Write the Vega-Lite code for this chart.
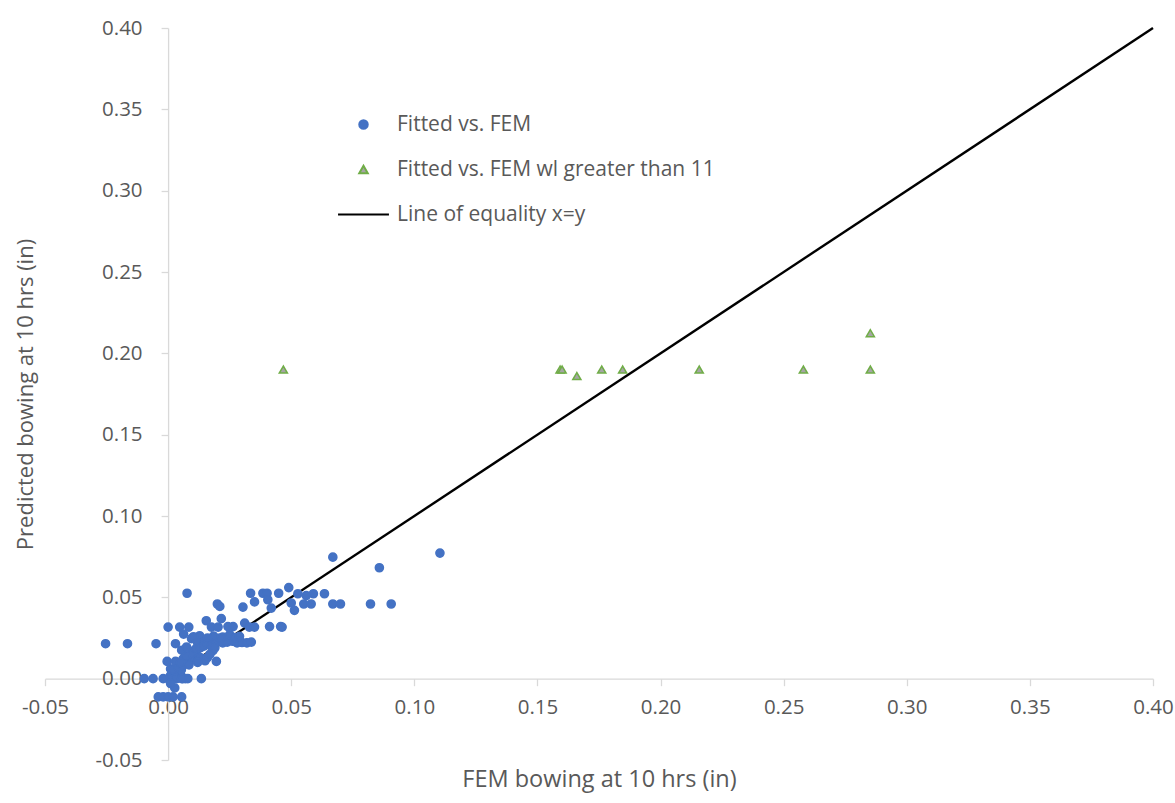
{
  "$schema": "https://vega.github.io/schema/vega-lite/v6.json",
  "width": 1108,
  "height": 732,
  "autosize": "none",
  "padding": {"left": 45, "top": 28, "right": 22, "bottom": 43},
  "background": "white",
  "config": {
    "view": {"stroke": null},
    "font": "Open Sans",
    "axis": {"grid": false, "domainColor": "#d9d9d9", "tickColor": "#d9d9d9", "domainWidth": 1.3, "tickWidth": 1.3, "tickSize": 7, "labelColor": "#595959", "labelFont": "Open Sans", "labelFontSize": 20.5, "titleColor": "#595959", "titleFont": "Open Sans", "titleFontSize": 22, "titleFontWeight": "normal"},
    "legend": {"title": null, "orient": "none", "legendX": 308, "legendY": 86, "padding": 0, "symbolSize": 72, "symbolStrokeWidth": 2, "labelOffset": 23, "rowPadding": 23, "labelFont": "Open Sans", "labelFontSize": 21, "labelColor": "#595959", "labelLimit": 600}
  },
  "datasets": {
    "pts": [
      {"fem": 0.1104, "pred": 0.0772, "series": "Fitted vs. FEM"},
      {"fem": 0.0669, "pred": 0.0747, "series": "Fitted vs. FEM"},
      {"fem": 0.0858, "pred": 0.0682, "series": "Fitted vs. FEM"},
      {"fem": 0.0490, "pred": 0.0560, "series": "Fitted vs. FEM"},
      {"fem": 0.0077, "pred": 0.0525, "series": "Fitted vs. FEM"},
      {"fem": 0.0335, "pred": 0.0525, "series": "Fitted vs. FEM"},
      {"fem": 0.0385, "pred": 0.0525, "series": "Fitted vs. FEM"},
      {"fem": 0.0402, "pred": 0.0525, "series": "Fitted vs. FEM"},
      {"fem": 0.0449, "pred": 0.0525, "series": "Fitted vs. FEM"},
      {"fem": 0.0527, "pred": 0.0522, "series": "Fitted vs. FEM"},
      {"fem": 0.0561, "pred": 0.0511, "series": "Fitted vs. FEM"},
      {"fem": 0.0590, "pred": 0.0522, "series": "Fitted vs. FEM"},
      {"fem": 0.0635, "pred": 0.0522, "series": "Fitted vs. FEM"},
      {"fem": 0.0351, "pred": 0.0472, "series": "Fitted vs. FEM"},
      {"fem": 0.0405, "pred": 0.0485, "series": "Fitted vs. FEM"},
      {"fem": 0.0419, "pred": 0.0434, "series": "Fitted vs. FEM"},
      {"fem": 0.0304, "pred": 0.0440, "series": "Fitted vs. FEM"},
      {"fem": 0.0500, "pred": 0.0465, "series": "Fitted vs. FEM"},
      {"fem": 0.0513, "pred": 0.0420, "series": "Fitted vs. FEM"},
      {"fem": 0.0551, "pred": 0.0459, "series": "Fitted vs. FEM"},
      {"fem": 0.0581, "pred": 0.0459, "series": "Fitted vs. FEM"},
      {"fem": 0.0669, "pred": 0.0459, "series": "Fitted vs. FEM"},
      {"fem": 0.0700, "pred": 0.0459, "series": "Fitted vs. FEM"},
      {"fem": 0.0822, "pred": 0.0459, "series": "Fitted vs. FEM"},
      {"fem": 0.0906, "pred": 0.0459, "series": "Fitted vs. FEM"},
      {"fem": 0.0200, "pred": 0.0459, "series": "Fitted vs. FEM"},
      {"fem": 0.0210, "pred": 0.0444, "series": "Fitted vs. FEM"},
      {"fem": 0.0216, "pred": 0.0369, "series": "Fitted vs. FEM"},
      {"fem": 0.0155, "pred": 0.0356, "series": "Fitted vs. FEM"},
      {"fem": 0.0000, "pred": 0.0317, "series": "Fitted vs. FEM"},
      {"fem": 0.0047, "pred": 0.0317, "series": "Fitted vs. FEM"},
      {"fem": 0.0084, "pred": 0.0317, "series": "Fitted vs. FEM"},
      {"fem": 0.0176, "pred": 0.0317, "series": "Fitted vs. FEM"},
      {"fem": 0.0203, "pred": 0.0317, "series": "Fitted vs. FEM"},
      {"fem": 0.0243, "pred": 0.0320, "series": "Fitted vs. FEM"},
      {"fem": 0.0264, "pred": 0.0320, "series": "Fitted vs. FEM"},
      {"fem": 0.0311, "pred": 0.0342, "series": "Fitted vs. FEM"},
      {"fem": 0.0330, "pred": 0.0317, "series": "Fitted vs. FEM"},
      {"fem": 0.0351, "pred": 0.0317, "series": "Fitted vs. FEM"},
      {"fem": 0.0412, "pred": 0.0320, "series": "Fitted vs. FEM"},
      {"fem": 0.0457, "pred": 0.0320, "series": "Fitted vs. FEM"},
      {"fem": 0.0463, "pred": 0.0317, "series": "Fitted vs. FEM"},
      {"fem": 0.0063, "pred": 0.0274, "series": "Fitted vs. FEM"},
      {"fem": 0.0095, "pred": 0.0246, "series": "Fitted vs. FEM"},
      {"fem": 0.0128, "pred": 0.0264, "series": "Fitted vs. FEM"},
      {"fem": 0.0103, "pred": 0.0258, "series": "Fitted vs. FEM"},
      {"fem": -0.0254, "pred": 0.0215, "series": "Fitted vs. FEM"},
      {"fem": -0.0165, "pred": 0.0215, "series": "Fitted vs. FEM"},
      {"fem": -0.0049, "pred": 0.0215, "series": "Fitted vs. FEM"},
      {"fem": 0.0030, "pred": 0.0215, "series": "Fitted vs. FEM"},
      {"fem": 0.0120, "pred": 0.0220, "series": "Fitted vs. FEM"},
      {"fem": 0.0145, "pred": 0.0225, "series": "Fitted vs. FEM"},
      {"fem": 0.0165, "pred": 0.0230, "series": "Fitted vs. FEM"},
      {"fem": 0.0185, "pred": 0.0220, "series": "Fitted vs. FEM"},
      {"fem": 0.0205, "pred": 0.0230, "series": "Fitted vs. FEM"},
      {"fem": 0.0222, "pred": 0.0220, "series": "Fitted vs. FEM"},
      {"fem": 0.0240, "pred": 0.0225, "series": "Fitted vs. FEM"},
      {"fem": 0.0262, "pred": 0.0230, "series": "Fitted vs. FEM"},
      {"fem": 0.0280, "pred": 0.0220, "series": "Fitted vs. FEM"},
      {"fem": 0.0300, "pred": 0.0222, "series": "Fitted vs. FEM"},
      {"fem": 0.0320, "pred": 0.0220, "series": "Fitted vs. FEM"},
      {"fem": 0.0338, "pred": 0.0225, "series": "Fitted vs. FEM"},
      {"fem": 0.0135, "pred": 0.0195, "series": "Fitted vs. FEM"},
      {"fem": 0.0222, "pred": 0.0255, "series": "Fitted vs. FEM"},
      {"fem": 0.0250, "pred": 0.0270, "series": "Fitted vs. FEM"},
      {"fem": 0.0272, "pred": 0.0252, "series": "Fitted vs. FEM"},
      {"fem": 0.0210, "pred": 0.0250, "series": "Fitted vs. FEM"},
      {"fem": 0.0185, "pred": 0.0262, "series": "Fitted vs. FEM"},
      {"fem": 0.0290, "pred": 0.0260, "series": "Fitted vs. FEM"},
      {"fem": 0.0160, "pred": 0.0250, "series": "Fitted vs. FEM"},
      {"fem": 0.0196, "pred": 0.0106, "series": "Fitted vs. FEM"},
      {"fem": 0.0182, "pred": 0.0172, "series": "Fitted vs. FEM"},
      {"fem": 0.0000, "pred": 0.0000, "series": "Fitted vs. FEM"},
      {"fem": 0.0010, "pred": 0.0020, "series": "Fitted vs. FEM"},
      {"fem": 0.0020, "pred": 0.0000, "series": "Fitted vs. FEM"},
      {"fem": 0.0035, "pred": 0.0000, "series": "Fitted vs. FEM"},
      {"fem": 0.0040, "pred": 0.0012, "series": "Fitted vs. FEM"},
      {"fem": 0.0050, "pred": 0.0030, "series": "Fitted vs. FEM"},
      {"fem": 0.0060, "pred": 0.0000, "series": "Fitted vs. FEM"},
      {"fem": 0.0070, "pred": 0.0000, "series": "Fitted vs. FEM"},
      {"fem": 0.0080, "pred": 0.0000, "series": "Fitted vs. FEM"},
      {"fem": 0.0030, "pred": 0.0040, "series": "Fitted vs. FEM"},
      {"fem": 0.0010, "pred": 0.0060, "series": "Fitted vs. FEM"},
      {"fem": 0.0020, "pred": 0.0055, "series": "Fitted vs. FEM"},
      {"fem": 0.0054, "pred": 0.0055, "series": "Fitted vs. FEM"},
      {"fem": 0.0040, "pred": 0.0070, "series": "Fitted vs. FEM"},
      {"fem": 0.0060, "pred": 0.0080, "series": "Fitted vs. FEM"},
      {"fem": 0.0070, "pred": 0.0100, "series": "Fitted vs. FEM"},
      {"fem": 0.0080, "pred": 0.0110, "series": "Fitted vs. FEM"},
      {"fem": 0.0090, "pred": 0.0120, "series": "Fitted vs. FEM"},
      {"fem": 0.0100, "pred": 0.0130, "series": "Fitted vs. FEM"},
      {"fem": 0.0110, "pred": 0.0120, "series": "Fitted vs. FEM"},
      {"fem": 0.0120, "pred": 0.0140, "series": "Fitted vs. FEM"},
      {"fem": 0.0130, "pred": 0.0130, "series": "Fitted vs. FEM"},
      {"fem": 0.0140, "pred": 0.0120, "series": "Fitted vs. FEM"},
      {"fem": 0.0150, "pred": 0.0110, "series": "Fitted vs. FEM"},
      {"fem": 0.0160, "pred": 0.0130, "series": "Fitted vs. FEM"},
      {"fem": 0.0170, "pred": 0.0150, "series": "Fitted vs. FEM"},
      {"fem": 0.0100, "pred": 0.0160, "series": "Fitted vs. FEM"},
      {"fem": 0.0110, "pred": 0.0180, "series": "Fitted vs. FEM"},
      {"fem": 0.0130, "pred": 0.0190, "series": "Fitted vs. FEM"},
      {"fem": 0.0145, "pred": 0.0200, "series": "Fitted vs. FEM"},
      {"fem": 0.0160, "pred": 0.0210, "series": "Fitted vs. FEM"},
      {"fem": 0.0175, "pred": 0.0200, "series": "Fitted vs. FEM"},
      {"fem": 0.0190, "pred": 0.0190, "series": "Fitted vs. FEM"},
      {"fem": -0.0004, "pred": 0.0106, "series": "Fitted vs. FEM"},
      {"fem": 0.0030, "pred": 0.0106, "series": "Fitted vs. FEM"},
      {"fem": 0.0085, "pred": 0.0085, "series": "Fitted vs. FEM"},
      {"fem": 0.0120, "pred": 0.0100, "series": "Fitted vs. FEM"},
      {"fem": 0.0090, "pred": 0.0150, "series": "Fitted vs. FEM"},
      {"fem": 0.0060, "pred": 0.0120, "series": "Fitted vs. FEM"},
      {"fem": 0.0070, "pred": 0.0140, "series": "Fitted vs. FEM"},
      {"fem": 0.0050, "pred": 0.0100, "series": "Fitted vs. FEM"},
      {"fem": 0.0055, "pred": 0.0175, "series": "Fitted vs. FEM"},
      {"fem": 0.0075, "pred": 0.0195, "series": "Fitted vs. FEM"},
      {"fem": -0.0097, "pred": 0.0000, "series": "Fitted vs. FEM"},
      {"fem": -0.0061, "pred": 0.0000, "series": "Fitted vs. FEM"},
      {"fem": -0.0020, "pred": 0.0000, "series": "Fitted vs. FEM"},
      {"fem": 0.0030, "pred": 0.0000, "series": "Fitted vs. FEM"},
      {"fem": 0.0055, "pred": 0.0000, "series": "Fitted vs. FEM"},
      {"fem": 0.0135, "pred": 0.0000, "series": "Fitted vs. FEM"},
      {"fem": -0.0040, "pred": -0.0112, "series": "Fitted vs. FEM"},
      {"fem": -0.0020, "pred": -0.0112, "series": "Fitted vs. FEM"},
      {"fem": 0.0000, "pred": -0.0112, "series": "Fitted vs. FEM"},
      {"fem": 0.0020, "pred": -0.0112, "series": "Fitted vs. FEM"},
      {"fem": 0.0055, "pred": -0.0112, "series": "Fitted vs. FEM"},
      {"fem": 0.0027, "pred": -0.0057, "series": "Fitted vs. FEM"},
      {"fem": 0.0010, "pred": -0.0030, "series": "Fitted vs. FEM"},
      {"fem": 0.0468, "pred": 0.1900, "series": "Fitted vs. FEM wl greater than 11"},
      {"fem": 0.1592, "pred": 0.1900, "series": "Fitted vs. FEM wl greater than 11"},
      {"fem": 0.1600, "pred": 0.1900, "series": "Fitted vs. FEM wl greater than 11"},
      {"fem": 0.1660, "pred": 0.1860, "series": "Fitted vs. FEM wl greater than 11"},
      {"fem": 0.1761, "pred": 0.1900, "series": "Fitted vs. FEM wl greater than 11"},
      {"fem": 0.1846, "pred": 0.1900, "series": "Fitted vs. FEM wl greater than 11"},
      {"fem": 0.2157, "pred": 0.1900, "series": "Fitted vs. FEM wl greater than 11"},
      {"fem": 0.2580, "pred": 0.1900, "series": "Fitted vs. FEM wl greater than 11"},
      {"fem": 0.2852, "pred": 0.1900, "series": "Fitted vs. FEM wl greater than 11"},
      {"fem": 0.2852, "pred": 0.2124, "series": "Fitted vs. FEM wl greater than 11"}
    ],
    "eq": [
      {"fem": 0.0, "pred": 0.0},
      {"fem": 0.4, "pred": 0.4}
    ]
  },
  "layer": [
    {
      "data": {"name": "eq"},
      "mark": {"type": "line", "color": "#000000", "strokeWidth": 2.4},
      "encoding": {
        "x": {"field": "fem", "type": "quantitative"},
        "y": {"field": "pred", "type": "quantitative"}
      }
    },
    {
      "data": {"name": "pts"},
      "mark": {"type": "point", "filled": true, "opacity": 1, "size": 66, "strokeWidth": 1.5},
      "encoding": {
        "x": {"field": "fem", "type": "quantitative"},
        "y": {"field": "pred", "type": "quantitative"},
        "fill": {"field": "series", "type": "nominal",
          "scale": {"domain": ["Fitted vs. FEM", "Fitted vs. FEM wl greater than 11", "Line of equality x=y"], "range": ["#4472C4", "#A5A5A5", "#000000"]}
        },
        "stroke": {"field": "series", "type": "nominal",
          "scale": {"domain": ["Fitted vs. FEM", "Fitted vs. FEM wl greater than 11", "Line of equality x=y"], "range": ["#4472C4", "#70AD47", "#000000"]}
        },
        "shape": {"field": "series", "type": "nominal",
          "scale": {"domain": ["Fitted vs. FEM", "Fitted vs. FEM wl greater than 11", "Line of equality x=y"], "range": ["circle", "triangle-up", "M-6,0H6"]}
        }
      }
    }
  ],
  "encoding": {
    "x": {"field": "fem", "type": "quantitative",
      "scale": {"domain": [-0.05, 0.4], "nice": false, "zero": false},
      "axis": {"title": "FEM bowing at 10 hrs (in)", "titleFontSize": 23.5, "values": [-0.05, 0, 0.05, 0.1, 0.15, 0.2, 0.25, 0.3, 0.35, 0.4], "labelExpr": "replace(format(datum.value, '.2f'), '\u2212', '-')", "offset": -81.3, "labelPadding": 12, "labelFlush": false, "labelOverlap": false, "titleBaseline": "middle", "titleY": 101}
    },
    "y": {"field": "pred", "type": "quantitative",
      "scale": {"domain": [-0.05, 0.4], "nice": false, "zero": false},
      "axis": {"title": "Predicted bowing at 10 hrs (in)", "values": [-0.05, 0, 0.05, 0.1, 0.15, 0.2, 0.25, 0.3, 0.35, 0.4], "labelExpr": "replace(format(datum.value, '.2f'), '\u2212', '-')", "offset": -123.1, "labelPadding": 19, "labelFlush": false, "labelOverlap": false, "titleBaseline": "middle", "titleX": -143, "titleY": 366, "titleAngle": -90}
    }
  }
}
